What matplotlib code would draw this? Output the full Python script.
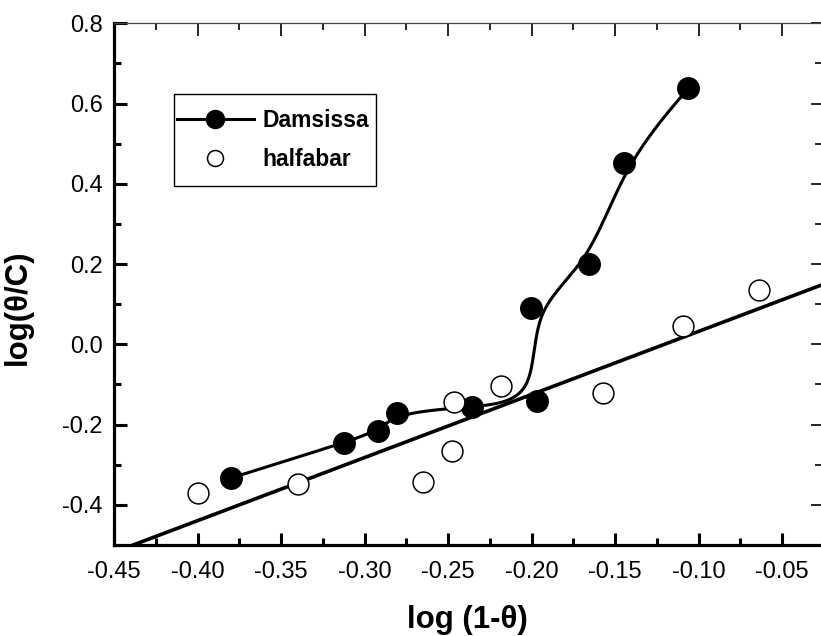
import numpy as np
import matplotlib
matplotlib.use("Agg")
import matplotlib.pyplot as plt
from matplotlib.ticker import MultipleLocator, FormatStrFormatter
from matplotlib.patches import Rectangle

# Damsissa (filled), in the original data order
dam_x = [-0.3798, -0.3121, -0.2919, -0.2804, -0.2357, -0.1969, -0.2003, -0.1654, -0.1444, -0.1061]
dam_y = [-0.333, -0.245, -0.2155, -0.170, -0.156, -0.140, 0.090, 0.199, 0.451, 0.638]

# halfabar (open)
hal_x = [-0.3997, -0.3396, -0.2652, -0.2476, -0.2466, -0.2181, -0.1571, -0.1093, -0.0638]
hal_y = [-0.370, -0.3477, -0.342, -0.2664, -0.1436, -0.1042, -0.1204, 0.0455, 0.1353]

xlim = (-0.45, -0.0267)
ylim = (-0.5, 0.8)

plt.rcParams['font.family'] = ['Liberation Sans', 'DejaVu Sans']


def bspline(xs, ys, n=60):
    P = np.column_stack([xs, ys])
    P = np.vstack([P[0], P[0], P, P[-1], P[-1]])
    t = np.linspace(0, 1, n)
    b0 = (1 - t) ** 3 / 6
    b1 = (3 * t**3 - 6 * t**2 + 4) / 6
    b2 = (-3 * t**3 + 3 * t**2 + 3 * t + 1) / 6
    b3 = t**3 / 6
    pts = []
    for i in range(len(P) - 3):
        seg = (np.outer(b0, P[i]) + np.outer(b1, P[i + 1]) +
               np.outer(b2, P[i + 2]) + np.outer(b3, P[i + 3]))
        pts.append(seg)
    pts = np.vstack(pts)
    return pts[:, 0], pts[:, 1]


fig = plt.figure(figsize=(8.21, 6.36), dpi=100)
ax = fig.add_axes([114 / 821, 0.1431, 1 - 114 / 821, 0.8203])

# linear fit of halfabar
k, b = np.polyfit(hal_x, hal_y, 1)
fx = np.array(xlim)
ax.plot(fx, k * fx + b, color='black', lw=2.6, zorder=2)

# B-spline through Damsissa
sx, sy = bspline(dam_x, dam_y)
ax.plot(sx, sy, color='black', lw=2.2, zorder=3)
ax.plot(dam_x, dam_y, 'o', color='black', ms=15.5, zorder=4)
ax.plot(hal_x, hal_y, 'o', mfc='white', mec='black', mew=1.1, ms=15, zorder=5)

# legend frame
ax.add_patch(Rectangle((0.0849, 0.688), 0.2857, 0.1765, transform=ax.transAxes,
                       facecolor='white', edgecolor='black', lw=1.0, zorder=6))

# legend handles
h1, = ax.plot([], [], '-o', color='black', lw=2.2, ms=13, label='Damsissa')
h2, = ax.plot([], [], 'o', mfc='white', mec='black', mew=1.1, ms=11.5, label='halfabar')
leg = ax.legend(handles=[h1, h2], loc='center left', bbox_to_anchor=(0.0891, 0.7763),
                borderaxespad=0, frameon=False,
                prop={'weight': 'bold', 'size': 16.5}, handlelength=3.36,
                handletextpad=0.35, labelspacing=0.71, borderpad=0)
leg.set_zorder(7)

ax.set_xlim(*xlim)
ax.set_ylim(*ylim)
ax.xaxis.set_major_locator(MultipleLocator(0.05))
ax.xaxis.set_minor_locator(MultipleLocator(0.025))
ax.yaxis.set_major_locator(MultipleLocator(0.2))
ax.yaxis.set_minor_locator(MultipleLocator(0.1))
ax.xaxis.set_major_formatter(FormatStrFormatter('%.2f'))
ax.yaxis.set_major_formatter(FormatStrFormatter('%.1f'))

ax.spines['left'].set_linewidth(2.3)
ax.spines['bottom'].set_linewidth(2.3)
ax.spines['top'].set_linewidth(0.9)
ax.spines['top'].set_color('#444444')
ax.spines['right'].set_visible(False)

ax.tick_params(which='both', direction='in', top=True, right=True, labelsize=17)
ax.tick_params(axis='x', pad=11.5)
ax.tick_params(axis='y', pad=8)
ax.tick_params(which='major', length=9, width=2.2)
ax.tick_params(which='minor', length=5, width=2.2)
for t in ax.xaxis.get_ticklines(minor=False)[1::2]:
    t.set_markeredgewidth(1.2)
for t in ax.xaxis.get_ticklines(minor=True)[1::2]:
    t.set_markeredgewidth(1.2)
for t in ax.yaxis.get_ticklines(minor=False)[1::2]:
    t.set_markeredgewidth(1.2)
    t.set_markersize(7)
for t in ax.yaxis.get_ticklines(minor=True)[1::2]:
    t.set_markeredgewidth(1.2)
    t.set_markersize(4)

ax.set_xlabel('log (1-θ)', fontsize=22.5, fontweight='bold', labelpad=16)
ax.set_ylabel('log(θ/C)', fontsize=22.5, fontweight='bold')
ax.yaxis.set_label_coords(-0.1146, 0.456)

fig.savefig('out.png', dpi=100)
